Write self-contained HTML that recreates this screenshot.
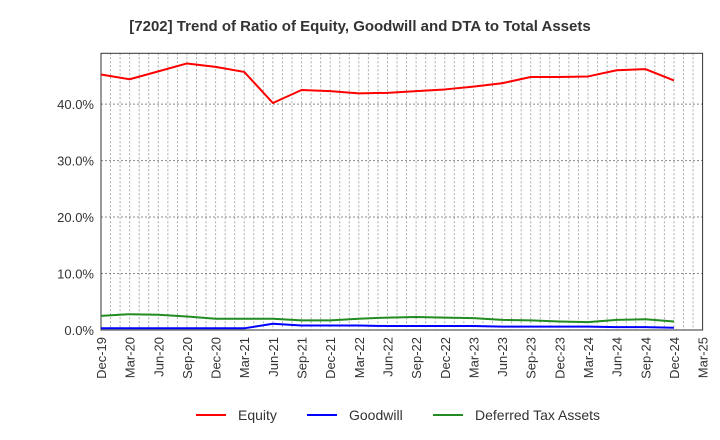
<!DOCTYPE html>
<html><head><meta charset="utf-8"><style>
body{margin:0;background:#fff;}
svg{display:block;font-family:"Liberation Sans",Arial,sans-serif;}
</style></head><body>
<svg id="chart" width="720" height="440" viewBox="0 0 720 440">
<text x="360" y="31" text-anchor="middle" font-size="15" font-weight="bold" fill="#333">[7202]  Trend of Ratio of Equity, Goodwill and DTA to Total Assets</text>
<g id="grid"></g>
<g id="axes"></g>
<g id="series"></g>
<g>
<g><line x1="196" y1="415" x2="226" y2="415" stroke="#ff0000" stroke-width="2"/><text x="238" y="420" font-size="14" fill="#333">Equity</text></g>
<g><line x1="307" y1="415" x2="337" y2="415" stroke="#0000ff" stroke-width="2"/><text x="349" y="420" font-size="14" fill="#333">Goodwill</text></g>
<g><line x1="433" y1="415" x2="463" y2="415" stroke="#228b22" stroke-width="2"/><text x="475" y="420" font-size="14" fill="#333">Deferred Tax Assets</text></g>
</g>
</svg>
<script>
const categories = ["Dec-19","Mar-20","Jun-20","Sep-20","Dec-20","Mar-21","Jun-21","Sep-21","Dec-21","Mar-22","Jun-22","Sep-22","Dec-22","Mar-23","Jun-23","Sep-23","Dec-23","Mar-24","Jun-24","Sep-24","Dec-24","Mar-25"];
const equity = [45.25,44.4,45.8,47.2,46.6,45.7,40.2,42.5,42.3,41.9,42.0,42.3,42.6,43.1,43.7,44.8,44.8,44.9,46.0,46.2,44.2];
const goodwill = [0.3,0.3,0.3,0.3,0.3,0.3,1.1,0.8,0.8,0.8,0.7,0.7,0.7,0.7,0.6,0.6,0.6,0.6,0.5,0.5,0.4];
const dta = [2.5,2.8,2.7,2.4,2.0,2.0,2.0,1.7,1.7,2.0,2.2,2.3,2.2,2.1,1.8,1.7,1.5,1.4,1.8,1.9,1.5];
const yTicks = [0,10,20,30,40];
const yTickLabels = ["0.0%","10.0%","20.0%","30.0%","40.0%"];
const yMax = 49;

const L=101,R=702.6,B=330,T=53.3;
const NS="http://www.w3.org/2000/svg";
const qStep=(R-L)/(categories.length-1);
function xPos(i){return L+i*qStep;}
function yPos(v){return B-(v/yMax)*(B-T);}
function mk(tag,attrs,parent){const e=document.createElementNS(NS,tag);for(const k in attrs)e.setAttribute(k,attrs[k]);parent.appendChild(e);return e;}
const grid=document.getElementById('grid'),axes=document.getElementById('axes'),series=document.getElementById('series');
// monthly vertical gridlines
const months=(categories.length-1)*3;
for(let m=1;m<months;m++){
  const x=L+m*qStep/3;
  const g=mk('line',{x1:x,y1:T,x2:x,y2:B,stroke:'#aaa','stroke-width':1,'stroke-dasharray':'2,2'},grid);
  
  
}
yTicks.forEach((v,i)=>{
  const y=yPos(v);
  if(v>0){const g=mk('line',{x1:L,y1:y,x2:R,y2:y,stroke:'#888','stroke-width':1,'stroke-dasharray':'2,2'},grid);
  
  }
  const t=mk('text',{x:L-7,y:y+5,'text-anchor':'end','font-size':'13',fill:'#333'},axes);
  t.textContent=yTickLabels[i];
  
  
});
categories.forEach((c,i)=>{
  const x=xPos(i);
  const t=mk('text',{x:x+5,y:B+7,'text-anchor':'end','font-size':'13',fill:'#333',transform:`rotate(-90 ${x+5} ${B+7})`},axes);
  t.textContent=c;
  
  
});
const box=mk('rect',{x:L,y:T,width:R-L,height:B-T,fill:'none',stroke:'#333','stroke-width':1},axes);


function line(data,color,name){
  const pts=data.map((v,i)=>xPos(i)+','+yPos(v)).join(' ');
  const p=mk('polyline',{points:pts,fill:'none',stroke:color,'stroke-width':2,'stroke-linejoin':'round'},series);
  
  
}
line(dta,'#228b22','dta-line');
line(goodwill,'#0000ff','goodwill-line');
line(equity,'#ff0000','equity-line');
</script>
</body></html>
